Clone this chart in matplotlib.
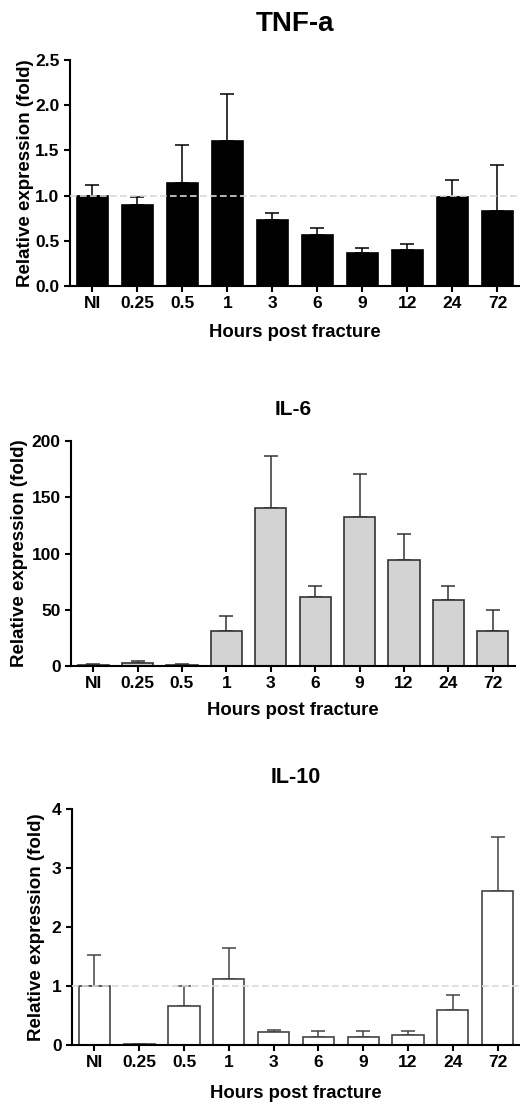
import matplotlib
matplotlib.use('Agg')
import matplotlib.pyplot as plt
import numpy as np

plt.rcParams['font.family'] = ['Liberation Sans', 'DejaVu Sans']
plt.rcParams['font.weight'] = 'bold'

hours = ['NI', '0.25', '0.5', '1', '3', '6', '9', '12', '24', '72']

tnf = [1.00, 0.90, 1.14, 1.60, 0.73, 0.56, 0.37, 0.40, 0.99, 0.83]
tnf_err = [0.12, 0.09, 0.42, 0.53, 0.08, 0.08, 0.05, 0.07, 0.18, 0.51]

il6 = [1.0, 2.4, 1.0, 30.8, 140.2, 61.8, 132.8, 94.7, 58.9, 31.4]
il6_err = [0.5, 2.0, 0.5, 13.9, 46.2, 9.5, 38.2, 22.8, 12.1, 18.6]

il10 = [1.00, 0.01, 0.66, 1.12, 0.22, 0.14, 0.14, 0.17, 0.60, 2.61]
il10_err = [0.53, 0.0, 0.34, 0.52, 0.03, 0.10, 0.09, 0.06, 0.24, 0.91]

fig = plt.figure(figsize=(5.2, 11.04), dpi=100)

panels = [
    # title, values, err, ymax, yticks, fmt, fill, edge, errcolor, rect, title size, title pad, ylabel x, xlabel y, dashed line
    ('TNF-a', tnf, tnf_err, 2.5, np.arange(0, 2.6, 0.5), '{:.1f}', 'black', 'black', 'black',
     [0.1346, 0.7409, 0.8654, 0.2047], 20, 21, -0.081, -0.17, True),
    ('IL-6', il6, il6_err, 200, [0, 50, 100, 150, 200], '{:.0f}', '#d3d3d3', '#333333', '#333333',
     [0.1365, 0.3967, 0.8538, 0.2038], 15, 19, -0.097, -0.16, False),
    ('IL-10', il10, il10_err, 4, [0, 1, 2, 3, 4], '{:.0f}', 'white', '#444444', '#444444',
     [0.1385, 0.0534, 0.8615, 0.2138], 15.5, 19, -0.060, -0.169, True),
]

x = np.arange(len(hours))
for (title, vals, err, ymax, yt, yfmt, fc, ec, ecol, rect, tsize, tpad, ylx, xly, dash) in panels:
    ax = fig.add_axes(rect)
    ax.bar(x, vals, width=0.7, color=fc, edgecolor=ec, linewidth=1.2, zorder=2)
    ax.errorbar(x, vals, yerr=[np.zeros(len(vals)), err], fmt='none', ecolor=ecol,
                elinewidth=1.1, capsize=5, capthick=1.1, zorder=1)
    if dash:
        ax.axhline(1, color='#d9d9d9', linestyle=(0, (4, 2)), linewidth=1.2, zorder=3)
    ax.set_xlim(-0.5, 9.5)
    ax.set_ylim(0, ymax)
    ax.set_yticks(yt)
    ax.set_yticklabels([yfmt.format(v) for v in yt])
    ax.set_xticks(x)
    ax.set_xticklabels(hours)
    for s in ['top', 'right']:
        ax.spines[s].set_visible(False)
    for s in ['left', 'bottom']:
        ax.spines[s].set_linewidth(1.5)
    ax.tick_params(axis='both', length=4.5, width=1.5, labelsize=12.5, pad=3)
    ax.set_title(title, fontsize=tsize, fontweight='bold', pad=tpad)
    ax.set_ylabel('Relative expression (fold)', fontsize=13.5, fontweight='bold')
    ax.set_xlabel('Hours post fracture', fontsize=13.3, fontweight='bold')
    ax.yaxis.set_label_coords(ylx, 0.5)
    ax.xaxis.set_label_coords(0.5, xly)

fig.savefig('out.png', dpi=100)
